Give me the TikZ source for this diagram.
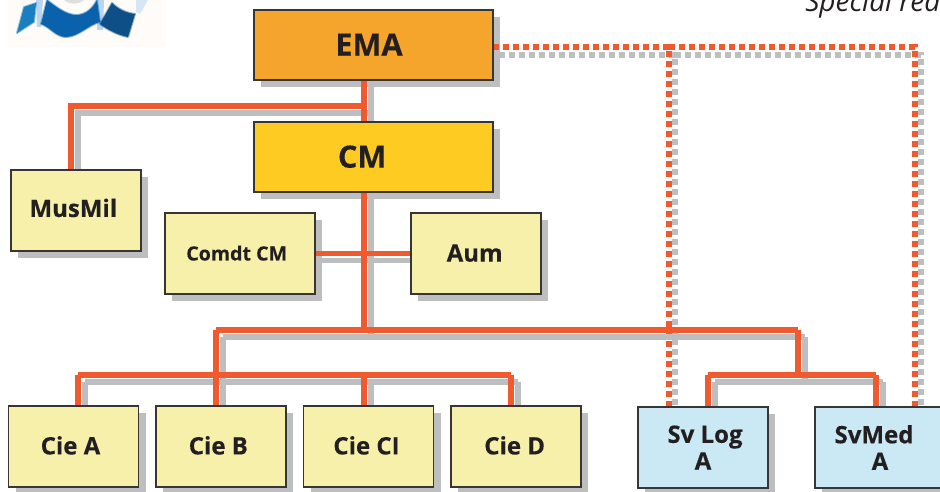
\documentclass[tikz,border=0pt]{standalone}
\usepackage{fontspec}
\setmainfont{Open Sans}[BoldFeatures={FakeBold=0.25}]
\usetikzlibrary{calc}
\pgfdeclarelayer{under}
\pgfsetlayers{under,main}
\definecolor{inkc}{HTML}{231F20}
\definecolor{linec}{HTML}{F15A2E}
\definecolor{shadec}{HTML}{BCBEC0}
\definecolor{emac}{HTML}{F5A52C}
\definecolor{cmc}{HTML}{FDCB22}
\definecolor{yelc}{HTML}{F6F0AB}
\definecolor{bluec}{HTML}{CBE9F5}
\definecolor{flaga}{HTML}{1A7FBF}
\definecolor{flagb}{HTML}{0B62AC}
\definecolor{flagc}{HTML}{0E4F88}
\definecolor{flagedge}{HTML}{B9D6EE}
\definecolor{logobg}{HTML}{FFFBF8}
\tikzset{
  box/.style={draw=inkc!90,line width=1.2pt,inner sep=0pt,outer sep=0pt,text=inkc,align=center},
  big/.style={box,minimum width=179.25pt,minimum height=52.5pt,font=\fontsize{23}{24}\selectfont\bfseries},
  unit/.style={box,fill=yelc,minimum width=97.5pt,minimum height=60.75pt,font=\fontsize{18}{20}\selectfont\bfseries},
  wideunit/.style={unit,minimum width=112.5pt,font=\fontsize{14.7}{18}\selectfont\bfseries},
  svc/.style={unit,fill=bluec},
  solidlink/.style={line width=4.2pt,miter limit=10},
  thinlink/.style={line width=3.6pt},
  dotlink/.style={line width=4.5pt,dash pattern=on 4.5pt off 3pt},
  flagblur/.style={line width=1.5pt,line join=round,opacity=.45}
}
\newcommand{\solidlinks}{%
  \draw[solidlink] (ema.south -| hub) -- (cm.north -| hub);
  \draw[solidlink] (hub) -- (mmx) -- (mmx |- musmil.north);
  \draw[solidlink] (cm.south -| hub) -- (trunk);
  \draw[solidlink] (barl) -- (barr);
  \draw[solidlink] (barl) -- (cb |- ciea.north);
  \draw[solidlink] (barr) -- (svmid);
  \draw[solidlink] (ca) -- (cd);
  \draw[solidlink] (ca) -- (ca |- ciea.north);
  \draw[solidlink] (cc) -- (cc |- ciea.north);
  \draw[solidlink] (cd) -- (cd |- ciea.north);
  \draw[solidlink] (sl) -- (sm);
  \draw[solidlink] (sl) -- (sl |- svlog.north);
  \draw[solidlink] (sm) -- (sm |- svlog.north);
  \draw[thinlink] (comdt.east) -- (aum.west);
}
\newcommand{\dottedlinks}{%
  \draw[dotlink] (ema.east |- dtop) -- (dl) -- (dl |- svlog.north);
  \draw[dotlink] (dl) -- (dr) -- (dr |- svmed.north);
}
\begin{document}
\begin{tikzpicture}[x=0.75pt,y=-0.75pt]
\useasboundingbox (0,0) rectangle (940,492);
% logo
\fill[logobg] (7,0) rectangle (166,47);
\fill[flagedge] (36,0) -- (43,0) -- (41,27) -- (37,27) -- cycle;
\fill[flagedge] (97,0) -- (104,0) -- (103,30) -- (97,30) -- cycle;
\fill[shadec!50] (64,0) .. controls (70,5) and (78,5) .. (84,0) -- cycle;
\fill[flagedge!60] (136,0) -- (148,0) -- (140,14) -- (136,12) -- cycle;
\fill[flaga] (24,7) -- (36,3) -- (34,22) -- (17,33) -- cycle;
\draw[flaga,flagblur] (24,7) -- (36,3) -- (34,22) -- (17,33) -- cycle;
\fill[flagb] (47,0) .. controls (55,6) and (66,15) .. (76,15) .. controls (86,15) and (93,8) .. (97,0) -- (100,22) .. controls (90,24) and (78,37) .. (66,37) .. controls (56,37) and (50,27) .. (41,24) -- cycle;
\draw[flagb,flagblur] (47,0) .. controls (55,6) and (66,15) .. (76,15) .. controls (86,15) and (93,8) .. (97,0) -- (100,22) .. controls (90,24) and (78,37) .. (66,37) .. controls (56,37) and (50,27) .. (41,24) -- cycle;
\fill[flagc] (112,3) .. controls (118,9) and (126,13) .. (135,14) -- (128,37) .. controls (118,35) and (108,30) .. (100,24) -- cycle;
\draw[flagc,flagblur] (112,3) .. controls (118,9) and (126,13) .. (135,14) -- (128,37) .. controls (118,35) and (108,30) .. (100,24) -- cycle;
% title fragment
\node[anchor=base west,inner sep=0pt,text=inkc,font=\fontsize{21}{22}\selectfont\itshape] (spec) at (805,12) {Special red};
% boxes
\node[big,fill=emac] (ema) at (373.5,45) {\raisebox{.7pt}{EMA}\kern 6.75pt};
\node[big,fill=cmc] (cm) at (373.5,157) {\raisebox{.7pt}{CM}\kern 17pt};
\node[unit] (musmil) at (76,210.5) {\raisebox{4pt}{MusMil}\kern 4pt};
\node[wideunit] (comdt) at (240,253.5) {\raisebox{.7pt}{Comdt CM}\kern 5pt};
\node[unit] (aum) at (476,253.5) {\raisebox{.7pt}{Aum}\kern 2pt};
\node[unit] (ciea) at (73.5,446.5) {\raisebox{1.8pt}{Cie A}\kern 4.5pt};
\node[unit] (cieb) at (221,446.5) {\raisebox{1.8pt}{Cie B}\kern 4pt};
\node[unit] (ciec) at (368.5,446.5) {\raisebox{1.8pt}{Cie CI}\kern 3pt};
\node[unit] (cied) at (516,446.5) {\raisebox{1.8pt}{Cie D}\kern 2pt};
\node[svc] (svlog) at (703,447.5) {\kern 3pt Sv Log\\A};
\node[svc] (svmed) at (880,447.5) {SvMed\kern 9pt\\A};
% junctions
\coordinate (hub) at (364,106);
\coordinate (mmx) at (71,106);
\coordinate (trunk) at (364,330);
\coordinate (barl) at (216,330);
\coordinate (barr) at (798,330);
\coordinate (svmid) at (798,375);
\coordinate (ca) at (78,375);
\coordinate (cc) at (364,375);
\coordinate (cd) at (511,375);
\coordinate (cb) at (216,375);
\coordinate (sl) at (708,375);
\coordinate (sm) at (876,375);
\coordinate (dtop) at (669,47);
\coordinate (dl) at (669,47);
\coordinate (dr) at (915,47);
\begin{pgfonlayer}{under}
  \foreach \n in {ema,cm,musmil,comdt,aum,ciea,cieb,ciec,cied,svlog,svmed}
    \fill[shadec] ($(\n.south west)+(7,7)$) rectangle ($(\n.north east)+(7,7)$);
  \begin{scope}[transform canvas={shift={(4.5pt,-6pt)}},shadec]
    \dottedlinks
  \end{scope}
  \begin{scope}[linec]
    \dottedlinks
  \end{scope}
  \begin{scope}[transform canvas={shift={(5.25pt,-5.25pt)}},shadec]
    \solidlinks
  \end{scope}
  \begin{scope}[linec]
    \solidlinks
  \end{scope}
\end{pgfonlayer}
\end{tikzpicture}
\end{document}
